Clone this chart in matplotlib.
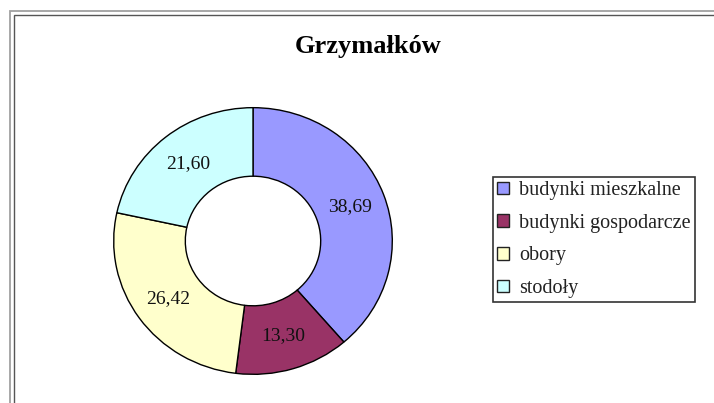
import numpy as np
import matplotlib.pyplot as plt
from matplotlib.patches import Rectangle, Patch

title = "Grzymałków"
categories = ["budynki mieszkalne", "budynki gospodarcze", "obory", "stodoły"]
values = [38.69, 13.30, 26.42, 21.60]
colors = ["#9999FF", "#993366", "#FFFFCC", "#CCFFFF"]

W, H = 714, 403
fig = plt.figure(figsize=(W / 100, H / 100), dpi=100)
fig.patch.set_facecolor("white")

# chart frame (double grey line, runs off the right/bottom edge)
fig.patches.append(Rectangle((9.5 / W, -0.05), 1.05, (H - 10.5) / H + 0.05, transform=fig.transFigure,
                             fill=False, edgecolor="#a0a0a0", linewidth=1.3))
fig.patches.append(Rectangle((14 / W, -0.05), 1.05, (H - 15) / H + 0.05, transform=fig.transFigure,
                             fill=False, edgecolor="#555555", linewidth=1.0))

fig.text(368 / W, 1 - 47 / H, title, ha="center", va="center",
         fontsize=19, fontweight="bold", family="Liberation Serif")

# pie area is a little wider than tall
ax = fig.add_axes([113 / W, (H - 375) / H, 280 / W, 268 / H])
ax.axis("off")

inner = 0.486
wedges, _ = ax.pie(values, colors=colors, startangle=90, counterclock=False, radius=1,
                   wedgeprops=dict(width=1 - inner, edgecolor="black", linewidth=1.0))
ax.set_xlim(-1.005, 1.005)
ax.set_ylim(-1.005, 1.005)
ax.set_aspect("auto")

mid = (1 + inner) / 2
for w, v in zip(wedges, values):
    ang = np.deg2rad((w.theta1 + w.theta2) / 2)
    ax.text(mid * np.cos(ang), mid * np.sin(ang), f"{v:.2f}".replace(".", ","),
            ha="center", va="center", fontsize=14, family="Liberation Serif", color="#111111")

handles = [Patch(facecolor=c, edgecolor="#222222", linewidth=1.0) for c in colors]
leg = fig.legend(handles, categories, loc="upper left", bbox_to_anchor=(493 / W, 1 - 177 / H),
                 prop={"family": "Liberation Serif", "size": 14.5}, frameon=True, fancybox=False,
                 edgecolor="black", handlelength=0.6, handleheight=0.6, handletextpad=0.5,
                 borderpad=0.2, labelspacing=0.68, borderaxespad=0)
leg.get_frame().set_linewidth(1.2)
for t in leg.get_texts():
    t.set_color("#222222")

fig.savefig("out.png", dpi=100)
